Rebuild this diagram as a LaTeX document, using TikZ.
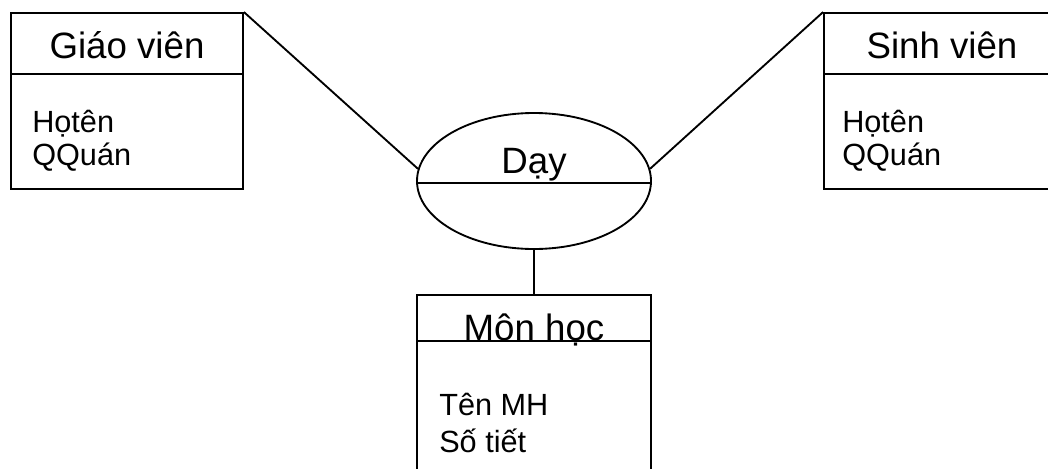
\documentclass[tikz,border=0pt]{standalone}
\usepackage{fontspec}
\setmainfont{Liberation Sans}
\usetikzlibrary{shapes.geometric,positioning}

\tikzset{
  entity/.style = {draw, shape = rectangle, line width = 1.4pt, inner sep = 0pt},
  relation/.style = {draw, shape = ellipse, line width = 1.4pt, inner sep = 0pt,
    minimum width = 175.5pt, minimum height = 102pt},
  title/.style = {inner sep = 0pt, anchor = base, font = \fontsize{27.5}{33}\selectfont},
  attr/.style = {inner sep = 0pt, anchor = base west, font = \fontsize{23}{27}\selectfont},
  link/.style = {line width = 1.4pt}
}

\begin{document}
\begin{tikzpicture}[x = 0.75pt, y = -0.75pt]
\useasboundingbox (0,0) rectangle (1048,468);
\clip (0,0) rectangle (1048,468);

% entities
\node[entity, minimum width = 174pt, minimum height = 132pt] (gv) at (127,101) {};
\node[entity, minimum width = 177pt, minimum height = 132pt] (sv) at (942,101) {};
\node[entity, minimum width = 175.5pt, minimum height = 150pt] (mh) at (534,395) {};
\node[relation] (day) at (534,181) {};

% dividers
\draw[link] ([yshift = -46.5pt]gv.north west) -- ([yshift = -46.5pt]gv.north east);
\draw[link] ([yshift = -46.5pt]sv.north west) -- ([yshift = -46.5pt]sv.north east);
\draw[link] ([yshift = -35pt]mh.north west) -- ([yshift = -35pt]mh.north east);
\draw[link] ([yshift = -1.5pt]day.west) -- ([yshift = -1.5pt]day.east);

% titles
\node[title] (gv-t) at (127,58) {Giáo viên};
\node[title] (sv-t) at (942,58) {Sinh viên};
\node[title] (day-t) at (534,173) {Dạy};
\node[title] (mh-t) at (534,340) {Môn học};

% attributes
\node[attr] (gv-a1) at (32,132) {Họtên};
\node[attr] (gv-a2) at (32,165) {QQuán};
\node[attr] (sv-a1) at (842,132) {Họtên};
\node[attr] (sv-a2) at (842,165) {QQuán};
\node[attr] (mh-a1) at (439,415) {Tên MH};
\node[attr] (mh-a2) at (439,452) {Số tiết};

% links
\draw[link] (gv.north east) -- (day.174);
\draw[link] (sv.north west) -- (day.6);
\draw[link] (day.south) -- (mh.north);
\end{tikzpicture}
\end{document}
